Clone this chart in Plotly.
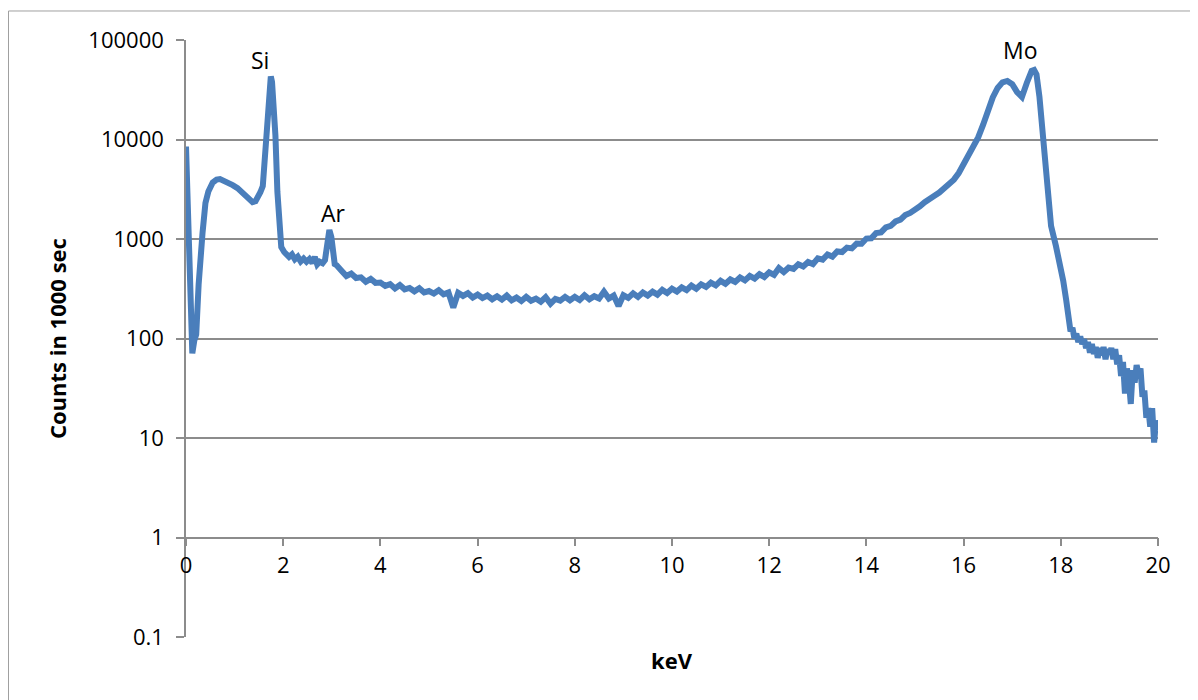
import math
import plotly.graph_objects as go

# ---- data (keV, counts in 1000 s) ----
kev_low = [0.00, 0.04, 0.08, 0.11, 0.13, 0.17, 0.21, 0.26, 0.30, 0.34, 0.40, 0.46,
           0.55, 0.63, 0.70, 0.78, 0.87, 0.96, 1.06, 1.17, 1.27, 1.37, 1.43, 1.48,
           1.53, 1.58, 1.62, 1.65, 1.69, 1.72, 1.745, 1.77, 1.80, 1.84, 1.88, 1.92,
           1.96, 2.02, 2.07]
counts_low = [8500, 2500, 500, 150, 71, 95, 110, 350, 700, 1150, 2300, 3000,
              3700, 3950, 4000, 3850, 3700, 3480, 3250, 2870, 2600, 2350, 2400, 2600,
              2950, 3400, 6500, 11600, 27000, 40000, 43000, 38000, 24000, 11000, 3000, 1200,
              830, 740, 700]

kev_ar = [2.12, 2.18, 2.24, 2.30, 2.36, 2.42, 2.48, 2.54, 2.60, 2.65, 2.70, 2.75,
          2.81, 2.86, 2.90, 2.95, 2.99, 3.03, 3.06, 3.10, 3.15]
counts_ar = [660, 700, 625, 665, 595, 635, 590, 630, 575, 660, 555, 590,
             570, 615, 820, 1230, 1050, 700, 560, 545, 495]

kev_mid = [3.2, 3.3, 3.4, 3.5, 3.6, 3.7, 3.8, 3.9, 4.0, 4.1, 4.2, 4.3, 4.4, 4.5,
           4.6, 4.7, 4.8, 4.9, 5.0, 5.1, 5.2, 5.3, 5.4, 5.5, 5.6, 5.7, 5.8, 5.9,
           6.0, 6.1, 6.2, 6.3, 6.4, 6.5, 6.6, 6.7, 6.8, 6.9, 7.0, 7.1, 7.2, 7.3,
           7.4, 7.5, 7.6, 7.7, 7.8, 7.9, 8.0, 8.1, 8.2, 8.3, 8.4, 8.5, 8.6, 8.7,
           8.8, 8.9, 9.0, 9.1, 9.2, 9.3, 9.4, 9.5, 9.6, 9.7, 9.8, 9.9, 10.0, 10.1,
           10.2, 10.3, 10.4, 10.5, 10.6, 10.7, 10.8, 10.9, 11.0, 11.1, 11.2, 11.3,
           11.4, 11.5, 11.6, 11.7, 11.8, 11.9, 12.0, 12.1, 12.2, 12.3, 12.4, 12.5,
           12.6, 12.7, 12.8, 12.9, 13.0, 13.1, 13.2, 13.3, 13.4, 13.5, 13.6, 13.7,
           13.8, 13.9, 14.0, 14.1, 14.2, 14.3, 14.4, 14.5, 14.6, 14.7, 14.8, 14.9,
           15.0, 15.1, 15.2, 15.3, 15.4, 15.5, 15.6, 15.7, 15.8, 15.9]
counts_mid = [480, 425, 450, 405, 412, 372, 398, 362, 365, 338, 352, 318, 345, 312,
              322, 298, 320, 290, 300, 283, 305, 278, 290, 205, 288, 268, 285, 258,
              276, 255, 270, 248, 266, 246, 270, 242, 258, 238, 262, 240, 252, 234,
              260, 224, 250, 240, 262, 242, 262, 244, 272, 248, 266, 252, 295, 252,
              270, 212, 272, 256, 284, 262, 290, 270, 296, 276, 308, 286, 316, 296,
              326, 306, 340, 316, 350, 330, 364, 342, 380, 355, 392, 370,
              410, 384, 425, 400, 442, 415, 462, 436, 510, 466, 515, 500,
              558, 530, 588, 560, 640, 620, 698, 665, 750, 740, 820, 805,
              900, 895, 1010, 1015, 1145, 1165, 1310, 1355, 1500, 1565, 1740, 1830,
              2020, 2130, 2340, 2480, 2720, 2930, 3220, 3480, 3950, 4600]

kev_mo = [16.0, 16.1, 16.2, 16.3, 16.4, 16.5, 16.6, 16.7, 16.8, 16.9, 17.0, 17.1,
          17.2, 17.3, 17.4, 17.45, 17.5, 17.56, 17.63, 17.70, 17.80, 17.90, 17.97,
          18.05, 18.11]
counts_mo = [5600, 6700, 8300, 10500, 14000, 20000, 26500, 33000, 37500, 38800, 36000, 30000,
             26800, 37000, 49000, 50000, 45000, 27000, 11600, 3700, 1350, 850, 615,
             380, 245]

kev_tail = [18.16, 18.20, 18.24, 18.28, 18.32, 18.36, 18.40, 18.44, 18.48, 18.52,
            18.56, 18.60, 18.64, 18.68, 18.72, 18.76, 18.80, 18.84, 18.88, 18.92,
            18.96, 19.00, 19.04, 19.08, 19.12, 19.16, 19.20, 19.24, 19.28, 19.32,
            19.36, 19.40, 19.44, 19.48, 19.52, 19.56, 19.60, 19.64, 19.68, 19.72,
            19.76, 19.80, 19.84, 19.88, 19.92, 19.96, 20.00]
counts_tail = [150, 118, 128, 100, 112, 92, 105, 88, 98, 80,
               92, 72, 88, 70, 82, 64, 80, 68, 82, 62,
               78, 70, 80, 62, 78, 55, 68, 42, 58, 28,
               50, 38, 22, 48, 36, 54, 44, 50, 26, 30,
               16, 20, 13, 20, 9, 15, 12]

x_ticks = [0, 2, 4, 6, 8, 10, 12, 14, 16, 18, 20]
y_ticks = [0.1, 1, 10, 100, 1000, 10000, 100000]
y_tick_text = ["0.1", "1", "10", "100", "1000", "10000", "100000"]

peak_labels = ["Si", "Ar", "Mo"]
peak_x = [1.53, 3.03, 17.17]
peak_y = [63000, 1820, 79000]

kev = kev_low + kev_ar + kev_mid + kev_mo + kev_tail
counts = counts_low + counts_ar + counts_mid + counts_mo + counts_tail

FONT = "Open Sans, Noto Sans, sans-serif"
GRID = "#8c8c8c"

fig = go.Figure()
fig.add_trace(go.Scatter(x=kev, y=counts, mode="lines",
                         line=dict(color="#4a7ebb", width=6),
                         showlegend=False, hoverinfo="x+y"))

for t, px_, py_ in zip(peak_labels, peak_x, peak_y):
    fig.add_annotation(x=px_, y=math.log10(py_), xref="x", yref="y", text=t,
                       showarrow=False, font=dict(family=FONT, size=23, color="#000"))

fig.add_annotation(x=0.5, y=-0.0385, xref="paper", yref="paper", text="<b>keV</b>",
                   showarrow=False, xanchor="center", yanchor="middle",
                   font=dict(family=FONT, size=22, color="#000"))
fig.add_annotation(x=-0.1332, y=0.5, xref="paper", yref="paper",
                   text="<b>Counts in 1000 sec</b>", textangle=-90,
                   showarrow=False, xanchor="center", yanchor="middle",
                   font=dict(family=FONT, size=22, color="#000"))

fig.add_shape(type="rect", xref="paper", yref="paper",
              x0=-0.1826, x1=1.06, y0=-0.13, y1=1.0486,
              line=dict(color="#a0a0a0", width=1), fillcolor="rgba(0,0,0,0)")

fig.update_layout(
    width=1190, height=692, autosize=False,
    margin=dict(l=178, r=40, t=32, b=63, pad=0),
    paper_bgcolor="white", plot_bgcolor="white",
    font=dict(family=FONT, size=22, color="#000"),
    xaxis=dict(range=[0, 20], tickvals=x_ticks, ticktext=[str(v) for v in x_ticks],
               showgrid=False, zeroline=False, showline=True, linecolor=GRID,
               linewidth=1.5, ticks="outside", ticklen=8, tickcolor=GRID, tickwidth=1.5,
               anchor="free", position=1/6, tickfont=dict(family=FONT, size=22)),
    yaxis=dict(type="log", range=[-1, 5], tickvals=y_ticks, ticktext=y_tick_text,
               showgrid=True, gridcolor=GRID, gridwidth=1.5, zeroline=False,
               showline=True, linecolor=GRID, linewidth=1.5, ticks="outside",
               ticklen=8, tickcolor=GRID, tickwidth=1.5, ticklabelstandoff=8,
               tickfont=dict(family=FONT, size=22)),
)

fig.write_html("out.html")
